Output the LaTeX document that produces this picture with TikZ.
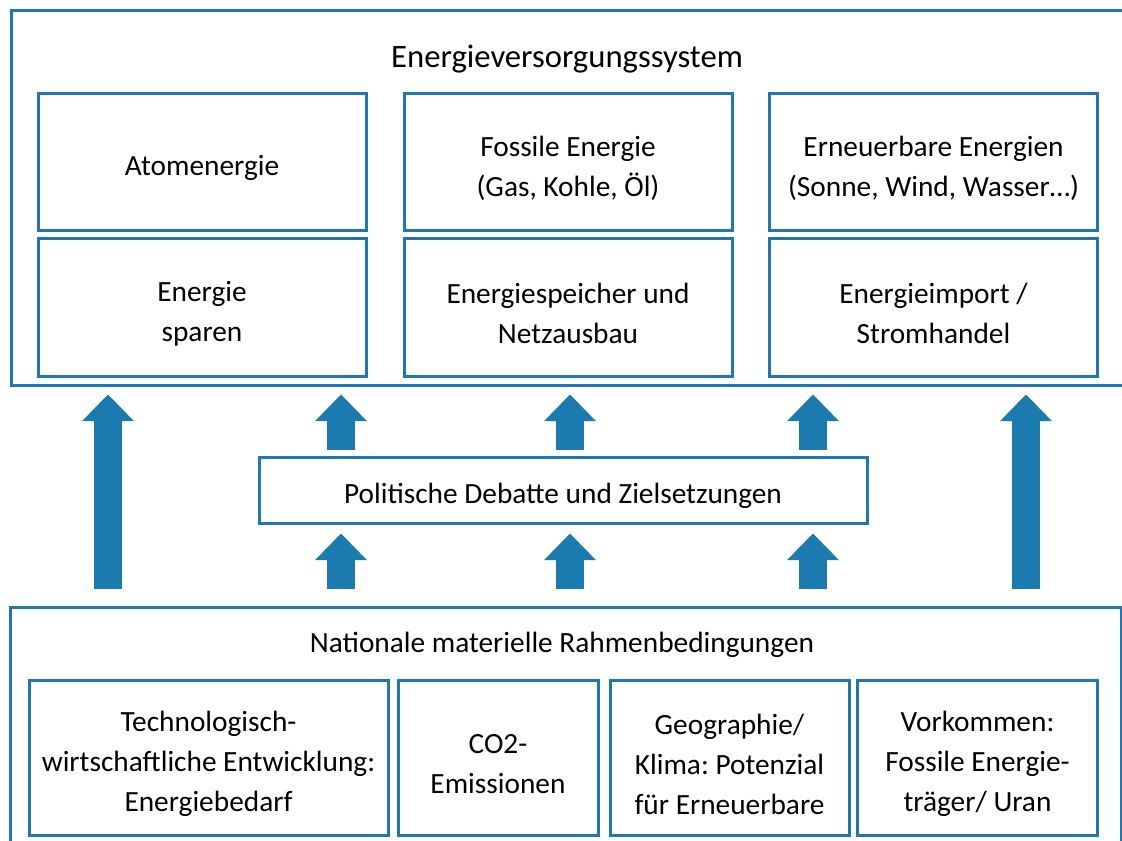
\documentclass[tikz,border=0pt]{standalone}
\usepackage{fontspec}
\setmainfont{Carlito}
\usetikzlibrary{arrows.meta}
\definecolor{boxblue}{RGB}{31,120,180}
\definecolor{arrowblue}{RGB}{27,122,176}

\begin{document}
\frenchspacing
\begin{tikzpicture}[x=0.75pt, y=-0.75pt, font=\fontsize{22}{30}\selectfont]
	\tikzstyle{outerStyle}=[shape=rectangle, draw=boxblue, line width=2.25pt, inner sep=0pt]
	\tikzstyle{boxStyle}=[shape=rectangle, draw=boxblue, line width=2.25pt, inner sep=0pt, minimum width=246pt, minimum height=103pt]
	\tikzstyle{lowStyle}=[boxStyle, minimum height=116.25pt]
	\tikzstyle{textStyle}=[align=center, yshift=-4.5pt]
	\tikzstyle{blockArrow}=[draw=arrowblue, line width=21pt, -{Triangle[width=39pt, length=20pt, line width=0pt]}]
	\useasboundingbox (0,0) rectangle (1122,840);
	\clip (0,0) rectangle (1122,840);
	% outer frames
	\node[outerStyle, minimum width=839.25pt, minimum height=281.25pt] (system) at (570.5,197.5) {};
	\node[outerStyle, minimum width=833.25pt, minimum height=182.25pt] (rahmen) at (565.5,728.5) {};
	\node[font=\fontsize{24.5}{30}\selectfont] (systemTitle) at (567,59) {Energieversorgungssystem};
	\node (rahmenTitle) at (562,645) {Nationale materielle Rahmenbedingungen};
	% energy sources
	\node[boxStyle, label={[textStyle]center:Atomenergie}] (atom) at (202,162) {};
	\node[boxStyle, label={[textStyle]center:Fossile Energie\\(Gas, Kohle, Öl)}] (fossil) at (568,162) {};
	\node[boxStyle, label={[textStyle]center:Erneuerbare Energien\\(Sonne, Wind, Wasser…)}] (erneuerbar) at (933.5,162) {};
	\node[boxStyle, label={[textStyle]center:Energie\\sparen}] (sparen) at (202,307.5) {};
	\node[boxStyle, label={[textStyle]center:Energiespeicher und\\Netzausbau}] (speicher) at (568,307.5) {};
	\node[boxStyle, label={[textStyle]center:Energieimport /\\Stromhandel}] (import) at (933.5,307.5) {};
	% politics
	\node[boxStyle, minimum width=456pt, minimum height=49.5pt, label={[textStyle]center:Politische Debatte und Zielsetzungen}] (politik) at (563,490) {};
	% conditions
	\node[lowStyle, minimum width=269.25pt, label={[textStyle]center:Technologisch-\\wirtschaftliche Entwicklung:\\Energiebedarf}] (technik) at (208.5,758) {};
	\node[lowStyle, minimum width=150pt, label={[textStyle]center:CO2-\\Emissionen}] (co2) at (498,758) {};
	\node[lowStyle, minimum width=179.25pt, label={[textStyle]center:Geographie/\\Klima: Potenzial\\für Erneuerbare}] (geo) at (729.5,758) {};
	\node[lowStyle, minimum width=180pt, label={[textStyle]center:Vorkommen:\\Fossile Energie-\\träger/ Uran}] (vorkommen) at (977.5,758) {};
	% arrows
	\coordinate (c1) at (108,0);
	\coordinate (c2) at (341,0);
	\coordinate (c3) at (570,0);
	\coordinate (c4) at (813,0);
	\coordinate (c5) at (1026,0);
	\draw[blockArrow, shorten <=12.75pt, shorten >=6pt] (rahmen.north -| c1) -- (system.south -| c1);
	\draw[blockArrow, shorten <=12.75pt, shorten >=6pt] (rahmen.north -| c5) -- (system.south -| c5);
	\foreach \c in {c2, c3, c4} {
		\draw[blockArrow, shorten <=12.75pt, shorten >=6.75pt] (rahmen.north -| \c) -- (politik.south -| \c);
		\draw[blockArrow, shorten <=4.5pt, shorten >=6pt] (politik.north -| \c) -- (system.south -| \c);
	}
\end{tikzpicture}
\end{document}
